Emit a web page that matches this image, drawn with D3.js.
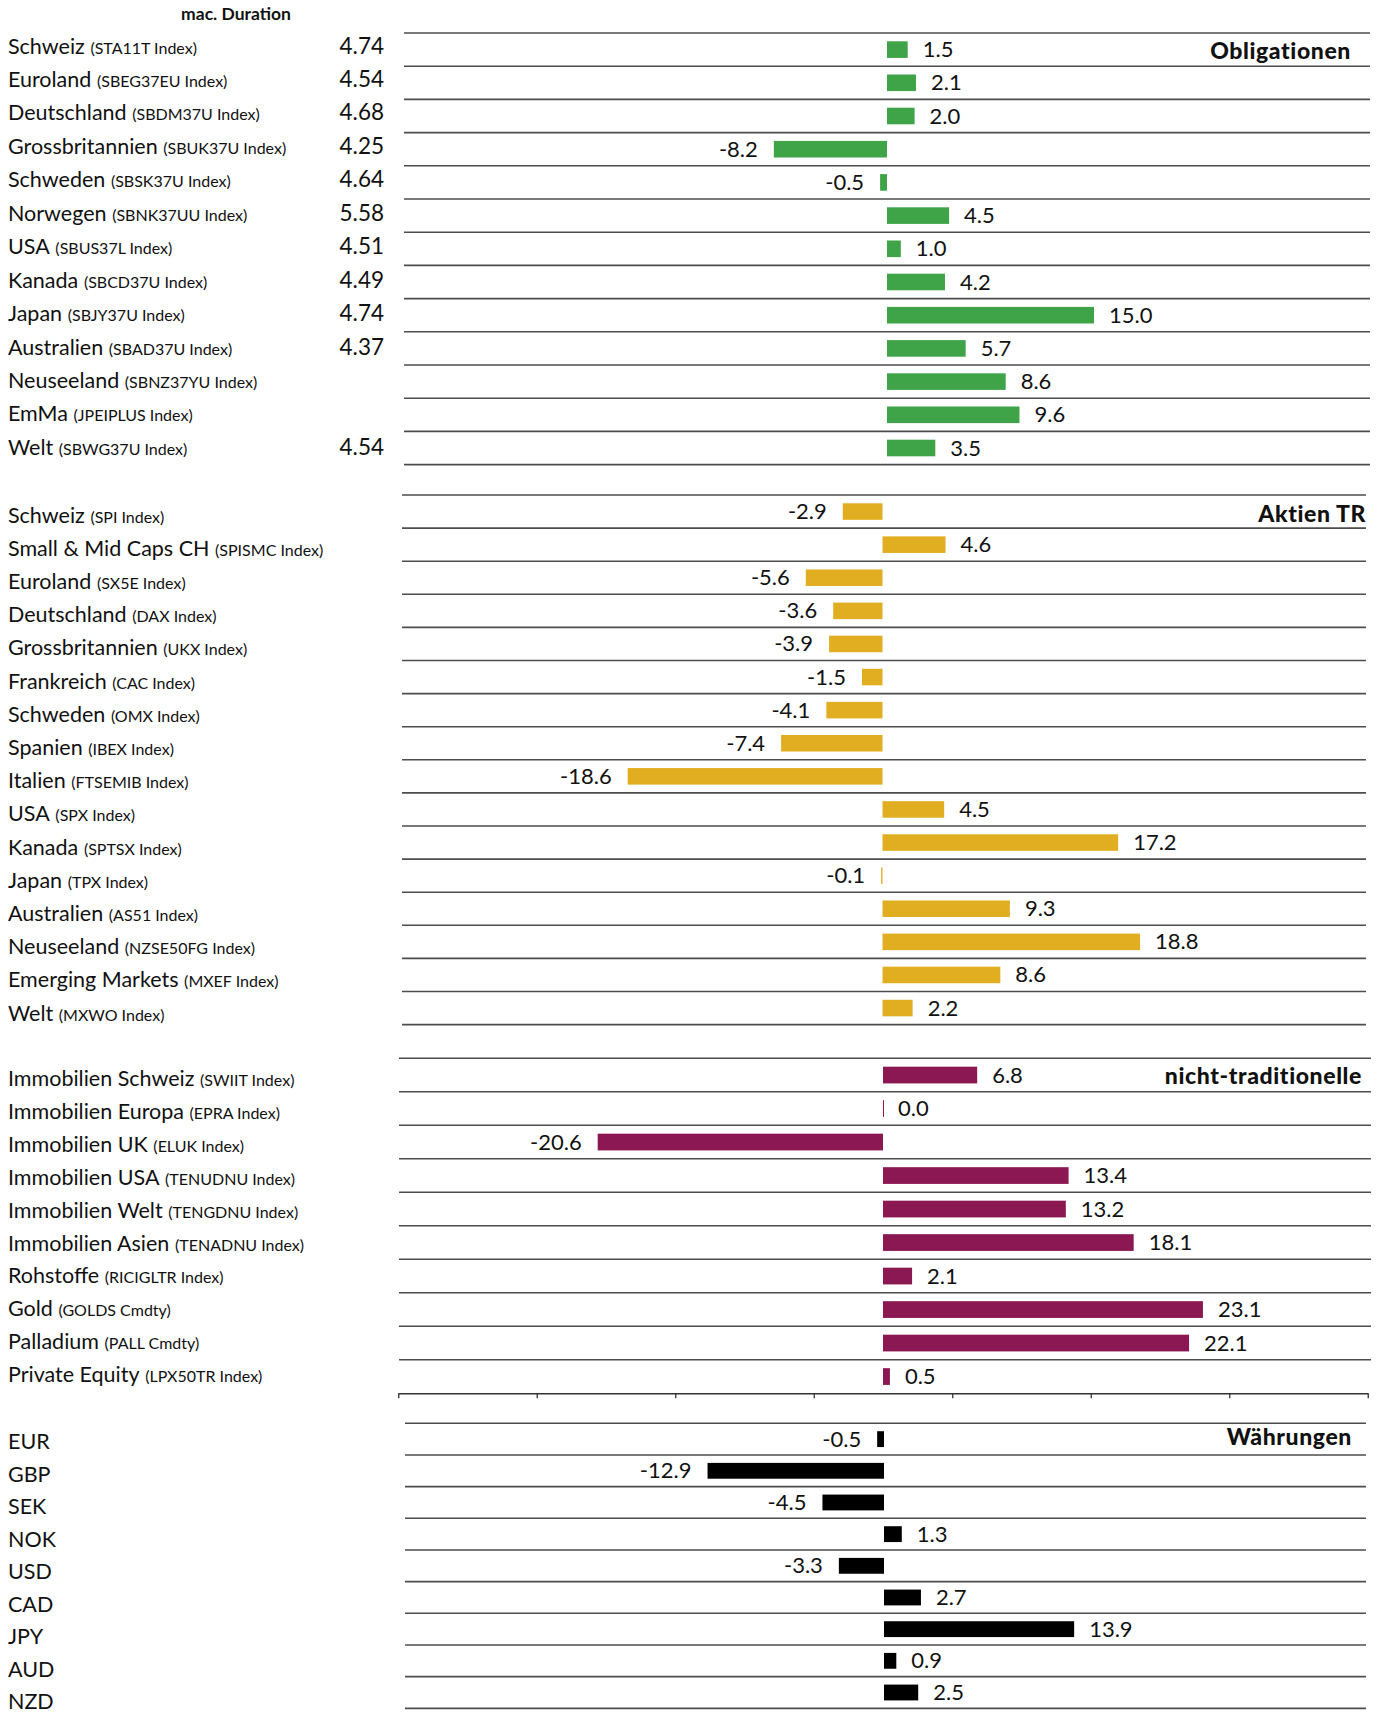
<!DOCTYPE html>
<html>
<head>
<meta charset="utf-8">
<script src="https://cdn.jsdelivr.net/npm/d3@7"></script>
<style>
  body { margin: 0; background: #fff; }
  text { font-family: Lato, "Noto Sans", sans-serif; fill: #111; }
</style>
</head>
<body>
<svg width="1385" height="1714"></svg>
<script>
// performance per asset class, in %

var oblig_names = ["Schweiz", "Euroland", "Deutschland", "Grossbritannien", "Schweden", "Norwegen",
  "USA", "Kanada", "Japan", "Australien", "Neuseeland", "EmMa", "Welt"];
var oblig_index = ["STA11T Index", "SBEG37EU Index", "SBDM37U Index", "SBUK37U Index", "SBSK37U Index",
  "SBNK37UU Index", "SBUS37L Index", "SBCD37U Index", "SBJY37U Index", "SBAD37U Index",
  "SBNZ37YU Index", "JPEIPLUS Index", "SBWG37U Index"];
var oblig_duration = ["4.74", "4.54", "4.68", "4.25", "4.64", "5.58", "4.51", "4.49", "4.74", "4.37", "", "", "4.54"];
var oblig_values = [1.5, 2.1, 2.0, -8.2, -0.5, 4.5, 1.0, 4.2, 15.0, 5.7, 8.6, 9.6, 3.5];

var aktien_names = ["Schweiz", "Small & Mid Caps CH", "Euroland", "Deutschland", "Grossbritannien",
  "Frankreich", "Schweden", "Spanien", "Italien", "USA", "Kanada", "Japan", "Australien",
  "Neuseeland", "Emerging Markets", "Welt"];
var aktien_index = ["SPI Index", "SPISMC Index", "SX5E Index", "DAX Index", "UKX Index", "CAC Index",
  "OMX Index", "IBEX Index", "FTSEMIB Index", "SPX Index", "SPTSX Index", "TPX Index", "AS51 Index",
  "NZSE50FG Index", "MXEF Index", "MXWO Index"];
var aktien_values = [-2.9, 4.6, -5.6, -3.6, -3.9, -1.5, -4.1, -7.4, -18.6, 4.5, 17.2, -0.1, 9.3, 18.8, 8.6, 2.2];

var alt_names = ["Immobilien Schweiz", "Immobilien Europa", "Immobilien UK", "Immobilien USA",
  "Immobilien Welt", "Immobilien Asien", "Rohstoffe", "Gold", "Palladium", "Private Equity"];
var alt_index = ["SWIIT Index", "EPRA Index", "ELUK Index", "TENUDNU Index", "TENGDNU Index",
  "TENADNU Index", "RICIGLTR Index", "GOLDS Cmdty", "PALL Cmdty", "LPX50TR Index"];
var alt_values = [6.8, 0.0, -20.6, 13.4, 13.2, 18.1, 2.1, 23.1, 22.1, 0.5];

var fx_names = ["EUR", "GBP", "SEK", "NOK", "USD", "CAD", "JPY", "AUD", "NZD"];
var fx_values = [-0.5, -12.9, -4.5, 1.3, -3.3, 2.7, 13.9, 0.9, 2.5];

var axis_ticks = [-35, -25, -15, -5, 5, 15, 25, 35];
var x_domain = [-35, 35];

// page layout (each block was pasted in separately, so zero & unit differ a bit)
var sections = [
  {title: "Obligationen", names: oblig_names, index: oblig_index, duration: oblig_duration,
   values: oblig_values, color: "#3fa447", top: 33, row_h: 33.2, zero: 887, unit: 13.8,
   lbl_y: 53.5, lbl_step: 33.45, line_x: [404, 1370], title_x: 1351, title_y: 59},
  {title: "Aktien TR", names: aktien_names, index: aktien_index,
   values: aktien_values, color: "#e1ae21", top: 495, row_h: 33.1, zero: 882.5, unit: 13.7,
   lbl_y: 522.5, lbl_step: 33.2, line_x: [402, 1366], title_x: 1366, title_y: 522},
  {title: "nicht-traditionelle", names: alt_names, index: alt_index,
   values: alt_values, color: "#8b1852", top: 1058.3, row_h: 33.5, zero: 883, unit: 13.85,
   lbl_y: 1086, lbl_step: 32.9, line_x: [399, 1371], title_x: 1362, title_y: 1084, axis: true},
  {title: "Währungen", names: fx_names,
   values: fx_values, color: "#000000", top: 1423.3, row_h: 31.67, zero: 884, unit: 13.68,
   lbl_y: 1449, lbl_step: 32.5, line_x: [405, 1366], title_x: 1352, title_y: 1445}
];

var svg = d3.select("svg");

svg.append("text")
  .attr("x", 236).attr("y", 20)
  .attr("text-anchor", "middle")
  .style("font-size", "17.5px")
  .style("font-weight", 700)
  .text("mac. Duration");

sections.forEach(draw_section);

function draw_section(s) {
  var n = s.values.length;
  var rows = d3.range(n);
  var x = d3.scaleLinear()
    .domain(x_domain)
    .range([s.zero + x_domain[0] * s.unit, s.zero + x_domain[1] * s.unit]);
  var y = d3.scaleBand()
    .domain(rows)
    .range([s.top, s.top + n * s.row_h])
    .paddingInner(0.5)
    .paddingOuter(0.25);

  var g = svg.append("g").attr("class", "section");

  // row separators
  g.selectAll("line.sep")
    .data(d3.range(s.axis ? n : n + 1))
    .enter().append("line")
    .attr("class", "sep")
    .attr("x1", s.line_x[0]).attr("x2", s.line_x[1])
    .attr("y1", function(i){ return s.top + i * s.row_h })
    .attr("y2", function(i){ return s.top + i * s.row_h })
    .style("stroke", "#4d4d4d")
    .style("stroke-width", 1.6);

  if (s.axis) {
    var ax = g.append("g")
      .attr("transform", translate(0, s.top + n * s.row_h))
      .call(d3.axisBottom(x).tickValues(axis_ticks).tickSize(5).tickSizeOuter(0).tickFormat(""));
    ax.select(".domain").style("stroke", "#333").style("stroke-width", 1.6);
    ax.selectAll(".tick line").style("stroke", "#333").style("stroke-width", 1.3);
  }

  // bars
  g.selectAll("rect")
    .data(rows)
    .enter().append("rect")
    .attr("x", function(i){ return Math.min(x(0), x(s.values[i])) })
    .attr("y", function(i){ return y(i) })
    .attr("width", function(i){ return Math.max(1, Math.abs(x(s.values[i]) - x(0))) })
    .attr("height", y.bandwidth())
    .style("fill", s.color);

  // value labels
  g.selectAll("text.val")
    .data(rows)
    .enter().append("text")
    .attr("class", "val")
    .attr("x", function(i){
      var v = s.values[i];
      return v < 0 ? x(v) - 16 : x(v) + 15;
    })
    .attr("y", function(i){ return y(i) + y.bandwidth() / 2 + 7.5 })
    .attr("text-anchor", function(i){ return s.values[i] < 0 ? "end" : "start" })
    .style("font-size", "22px")
    .text(function(i){ return s.values[i].toFixed(1) });

  // category labels
  var lbl = g.selectAll("text.lbl")
    .data(rows)
    .enter().append("text")
    .attr("class", "lbl")
    .attr("x", 8)
    .attr("y", function(i){ return s.lbl_y + i * s.lbl_step });
  lbl.append("tspan")
    .style("font-size", "21.5px")
    .text(function(i){ return s.names[i] });
  if (s.index) {
    lbl.append("tspan")
      .attr("dx", 1.5)
      .style("font-size", "16px")
      .text(function(i){ return " (" + s.index[i] + ")" });
  }

  if (s.duration) {
    g.selectAll("text.dur")
      .data(rows)
      .enter().append("text")
      .attr("class", "dur")
      .attr("x", 384)
      .attr("y", function(i){ return s.lbl_y + i * s.lbl_step })
      .attr("text-anchor", "end")
      .style("font-size", "22.5px")
      .text(function(i){ return s.duration[i] });
  }

  g.append("text")
    .attr("x", s.title_x).attr("y", s.title_y)
    .attr("text-anchor", "end")
    .style("font-size", "23px")
    .style("font-weight", 900)
    .style("letter-spacing", "0.6px")
    .text(s.title);
}

// ----------- helper functions ----------------

function translate(value_x, value_y){
  return "translate(" + [value_x, value_y] + ")"
}
</script>
</body>
</html>
